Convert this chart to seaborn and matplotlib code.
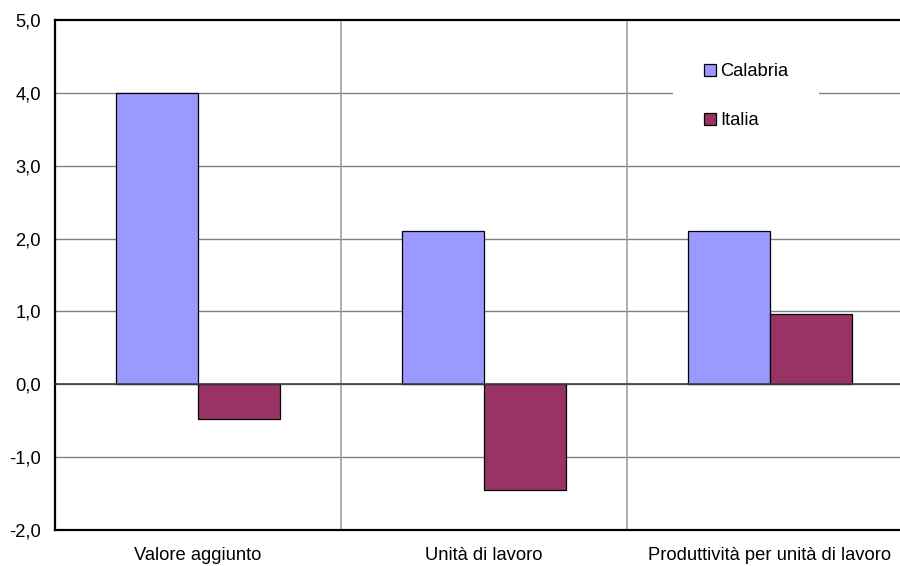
import matplotlib
matplotlib.use("Agg")
import matplotlib.pyplot as plt
import seaborn as sns
import pandas as pd
from matplotlib.patches import Patch

categories = ["Valore aggiunto", "Unità di lavoro", "Produttività per unità di lavoro"]
calabria = [4.0, 2.1, 2.1]
italia = [-0.48, -1.45, 0.97]
series_names = ["Calabria", "Italia"]
colors = ["#9999FF", "#993366"]
y_ticks = [-2, -1, 0, 1, 2, 3, 4, 5]

df = pd.DataFrame({
    "categoria": categories * 2,
    "serie": [series_names[0]] * 3 + [series_names[1]] * 3,
    "valore": calabria + italia,
})

sns.set_style("white")
plt.rcParams["font.family"] = ["Liberation Sans", "DejaVu Sans"]
plt.rcParams["text.color"] = "black"
plt.rcParams["xtick.color"] = "black"
plt.rcParams["ytick.color"] = "black"
plt.rcParams["xtick.labelcolor"] = "black"
plt.rcParams["ytick.labelcolor"] = "black"
FS = 13.2

fig = plt.figure(figsize=(9, 5.66), dpi=100)
ax = fig.add_axes([55 / 900, 1 - 530 / 566, 858 / 900, 510 / 566])

sns.barplot(data=df, x="categoria", y="valore", hue="serie",
            palette=colors, saturation=1, width=0.574, gap=0, ax=ax,
            edgecolor="black", linewidth=0.9, legend=False, zorder=3)

ax.set_ylim(-2, 5)
ax.set_xlim(-0.5, 2.5)
ax.set_yticks(y_ticks)
ax.set_yticklabels([f"{v:.1f}".replace(".", ",") for v in y_ticks], fontsize=FS, color="black")
ax.set_xticks(range(len(categories)))
ax.set_xticklabels(categories, fontsize=FS, color="black")
ax.tick_params(axis="y", length=0, pad=10)
ax.tick_params(axis="x", length=0, pad=12)
ax.set_xlabel("")
ax.set_ylabel("")

for v in y_ticks[1:-1]:
    ax.axhline(v, color="#808080", linewidth=1, zorder=1)
ax.axhline(0, color="#404040", linewidth=1.2, zorder=4)
for x in [0.5, 1.5]:
    ax.axvline(x, color="#a0a0a0", linewidth=1.2, zorder=1)

for side in ["left", "top", "bottom"]:
    ax.spines[side].set_color("black")
    ax.spines[side].set_linewidth(1.6)
ax.spines["right"].set_visible(False)

# legend on a borderless white box sitting over the gridline
handles = [Patch(facecolor=c, edgecolor="black", linewidth=0.9) for c in colors]
leg = ax.legend(handles, series_names, loc="upper left",
                bbox_to_anchor=(673 / 900, 1 - 32 / 566), bbox_transform=fig.transFigure,
                frameon=True, fancybox=False, framealpha=1,
                fontsize=FS, handlelength=0.62, handleheight=0.62, handletextpad=0.25,
                labelspacing=1.75, borderpad=1.7, borderaxespad=0, labelcolor="black")
leg.get_frame().set_facecolor("white")
leg.get_frame().set_linewidth(0)
leg.set_zorder(5)

fig.savefig("out.png", dpi=100)
